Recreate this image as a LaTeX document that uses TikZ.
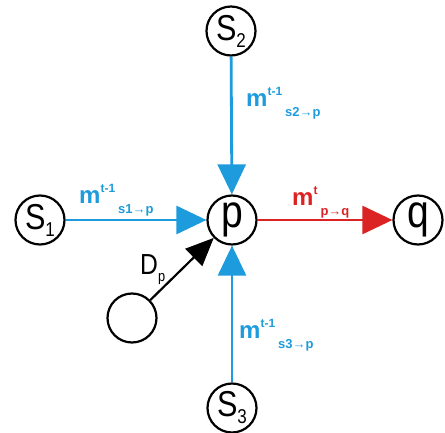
\documentclass[tikz,border=0pt]{standalone}
\usepackage{fontspec}
\setmainfont{Liberation Sans}
\newfontfamily\nodofont[FakeStretch=0.85]{Liberation Sans}
\usetikzlibrary{arrows.meta}
\definecolor{msgblue}{RGB}{30,155,220}
\definecolor{msgred}{RGB}{220,35,35}
\tikzset{
  nodo/.style={circle,draw,line width=2.2pt,minimum size=49pt,inner sep=0pt,font=\nodofont\fontsize{36}{36}\selectfont},
  msg/.style={line width=2.8pt,-{Triangle[length=30pt,width=28pt]}},
  lab/.style={anchor=base west,inner sep=0pt,font=\bfseries\fontsize{24}{24}\selectfont}
}
\newcommand{\mlab}[2]{m\raisebox{11pt}{\fontsize{12}{12}\selectfont #1}\kern3pt\raisebox{-10pt}{\fontsize{13}{13}\selectfont #2}}
\newcommand{\sdig}[1]{S\raisebox{-7pt}{\fontsize{20}{20}\selectfont #1}}
\begin{document}
\begin{tikzpicture}[x=1pt,y=-1pt]
        \useasboundingbox (0,0) rectangle (445,433);
        %nodi
        \node[nodo] (s2) at (231,31) {\sdig{2}};
        \node[nodo] (s1) at (40,220) {\sdig{1}};
        \node[nodo,font=\nodofont\fontsize{46}{46}\selectfont] (p) at (232,220) {p};
        \node[nodo,font=\nodofont\fontsize{46}{46}\selectfont] (q) at (418,220) {q};
        \node[nodo] (s3) at (232,408) {\sdig{3}};
        \node[nodo] (d) at (132,318) {};
        %messaggi
        \draw[msg,msgblue] (s2) -- (p);
        \draw[msg,msgblue] (s1) -- (p);
        \draw[msg,msgblue] (s3) -- (p);
        \draw[msg,msgred] (p) -- (q);
        \draw[line width=2.2pt,-{Triangle[length=28pt,width=24pt]}] (d) -- (p);
        %etichette
        \node[lab,msgblue] (m2) at (246,107) {\mlab{t-1}{s2→p}};
        \node[lab,msgblue] (m1) at (79,204) {\mlab{t-1}{s1→p}};
        \node[lab,msgblue] (m3) at (239,338) {\mlab{t-1}{s3→p}};
        \node[lab,msgred] (mq) at (292,206) {\mlab{t}{p→q}};
        \node[anchor=base west,inner sep=0pt,font=\nodofont\fontsize{29}{29}\selectfont] (dp) at (140,274) {D\raisebox{-8pt}{\fontsize{15}{15}\selectfont p}};
\end{tikzpicture}
\end{document}
